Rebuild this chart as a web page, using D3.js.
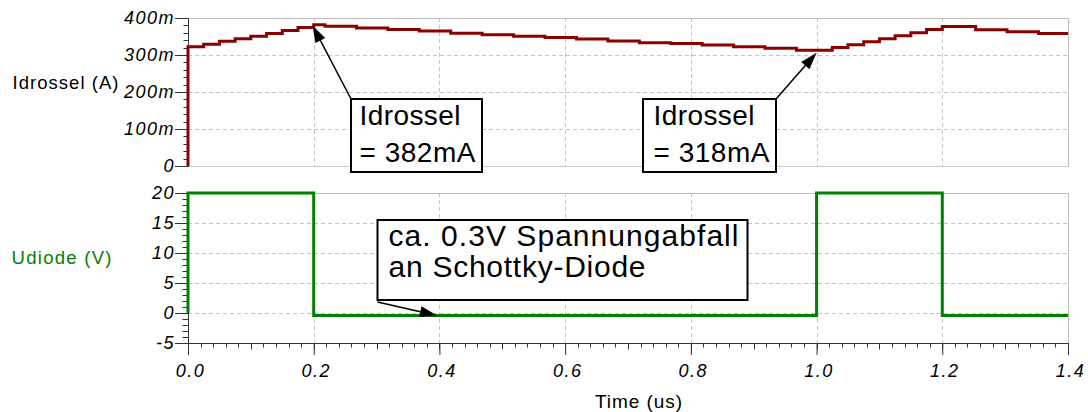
<!DOCTYPE html>
<html><head><meta charset="utf-8">
<script src="https://cdn.jsdelivr.net/npm/d3@7"></script>
<style>body{margin:0;background:#fff} svg{display:block}</style>
</head><body><svg id="c" width="1088" height="412"></svg>
<script>
// ---- data ----
const timeI = [0, 0, 0.025, 0.05, 0.075, 0.1, 0.125, 0.15, 0.175, 0.2, 0.218, 0.268, 0.318, 0.368, 0.418, 0.468, 0.518, 0.568, 0.618, 0.668, 0.718, 0.768, 0.818, 0.868, 0.918, 0.968, 1.0, 1.025, 1.05, 1.075, 1.1, 1.125, 1.15, 1.175, 1.2, 1.253, 1.303, 1.353, 1.4];
const idrossel = [0, 0.322, 0.329, 0.337, 0.344, 0.351, 0.358, 0.366, 0.374, 0.382, 0.378, 0.373, 0.369, 0.365, 0.359, 0.355, 0.351, 0.347, 0.343, 0.338, 0.333, 0.331, 0.327, 0.322, 0.318, 0.313, 0.313, 0.320, 0.328, 0.336, 0.344, 0.352, 0.360, 0.369, 0.377, 0.368, 0.363, 0.358, 0.358];
const timeU = [0, 0, 0.2, 0.2, 1.0, 1.0, 1.2, 1.2, 1.4];
const udiode = [0, 20, 20, -0.4, -0.4, 20, 20, -0.4, -0.4];
const xTicks = [0, 0.2, 0.4, 0.6, 0.8, 1.0, 1.2, 1.4];
const xTickLabels = ["0.0", "0.2", "0.4", "0.6", "0.8", "1.0", "1.2", "1.4"];
const iTicks = [0, 0.1, 0.2, 0.3, 0.4];
const iTickLabels = ["0", "100m", "200m", "300m", "400m"];
const uTicks = [-5, 0, 5, 10, 15, 20];
const uTickLabels = ["-5", "0", "5", "10", "15", "20"];
const annoText = [["Idrossel", "= 382mA"], ["Idrossel", "= 318mA"], ["ca. 0.3V Spannungabfall", "an Schottky-Diode"]];
const annoTarget = [[0.198, 0.380], [1.0, 0.306], [0.396, -0.4]];

// ---- layout ----
const svg = d3.select("#c");
const FONT = "'Liberation Sans', Arial, sans-serif";
const x = d3.scaleLinear().domain([0, 1.4]).range([188, 1068]);
const yI = d3.scaleLinear().domain([0, 0.4]).range([166, 18]);
const yU = d3.scaleLinear().domain([-5, 20]).range([343, 193]);
const GRID = "#c4c4c4";
const px = v => Math.round(v) + 0.5;

function panel(yS, yTicks, solidBottom) {
  const g = svg.append("g");
  const [y0, y1] = yS.range();
  g.selectAll("line.hg").data(yTicks.filter(v => yS(v) !== y0 && yS(v) !== y1)).join("line")
    .attr("x1", x(0)).attr("x2", x(1.4)).attr("y1", d => px(yS(d))).attr("y2", d => px(yS(d)))
    .attr("stroke", GRID).attr("stroke-dasharray", "4,3");
  g.selectAll("line.vg").data(xTicks.slice(1, -1)).join("line")
    .attr("x1", d => px(x(d))).attr("x2", d => px(x(d))).attr("y1", y1).attr("y2", y0)
    .attr("stroke", GRID).attr("stroke-dasharray", "4,3");
  g.append("line").attr("x1", x(0)).attr("x2", px(x(1.4))).attr("y1", px(y1)).attr("y2", px(y1)).attr("stroke", "#bdbdbd");
  g.append("line").attr("x1", px(x(1.4))).attr("x2", px(x(1.4))).attr("y1", px(y1)).attr("y2", px(y0)).attr("stroke", "#bdbdbd");
  if (solidBottom) g.append("line").attr("x1", x(0)).attr("x2", px(x(1.4))).attr("y1", px(y0)).attr("y2", px(y0)).attr("stroke", "#c8c8c8");
}
panel(yI, iTicks, true);
panel(yU, uTicks, false);

function styleTicks(sel, size, ls) {
  sel.attr("font-family", null).attr("font-size", null);
  sel.selectAll("text").attr("font-family", FONT).attr("font-style", "italic")
    .attr("font-size", size).attr("letter-spacing", ls).attr("fill", "#000");
  sel.selectAll("line").attr("stroke", "#333");
  sel.select(".domain").attr("stroke", "#333");
}

function minorY(yS, vals, len) {
  svg.append("g").selectAll("line").data(vals).join("line")
    .attr("x1", px(x(0)) - len).attr("x2", px(x(0))).attr("y1", d => px(yS(d))).attr("y2", d => px(yS(d)))
    .attr("stroke", "#333");
}
minorY(yI, d3.range(0, 21).map(i => i * 0.02), 5);
minorY(yU, d3.range(-5, 21), 6);

const axI = svg.append("g").attr("transform", `translate(${x(0)},0)`)
  .call(d3.axisLeft(yI).tickValues(iTicks).tickFormat((d, i) => iTickLabels[i]).tickSize(13).tickSizeOuter(0));
styleTicks(axI, 18, "1.5px");
axI.selectAll("text").attr("x", -13);

const axU = svg.append("g").attr("transform", `translate(${x(0)},0)`)
  .call(d3.axisLeft(yU).tickValues(uTicks).tickFormat((d, i) => uTickLabels[i]).tickSize(13).tickSizeOuter(0));
styleTicks(axU, 18, "1.5px");
axU.selectAll("text").attr("x", -13);

svg.append("g").selectAll("line").data(d3.range(0, 71)).join("line")
  .attr("x1", i => px(x(i * 0.02))).attr("x2", i => px(x(i * 0.02)))
  .attr("y1", px(yU(-5))).attr("y2", i => px(yU(-5)) + (i % 5 === 0 ? 6 : 4))
  .attr("stroke", "#333");
const axX = svg.append("g").attr("transform", `translate(0,${yU(-5)})`)
  .call(d3.axisBottom(x).tickValues(xTicks).tickFormat((d, i) => xTickLabels[i]).tickSize(12).tickSizeOuter(0));
styleTicks(axX, 18, "1.5px");
axX.selectAll("text").attr("y", 21).attr("dx", 2);

const lineI = d3.line().x((d, i) => x(timeI[i])).y(d => yI(d)).curve(d3.curveStepAfter);
svg.append("path").attr("d", lineI(idrossel)).attr("fill", "none").attr("stroke", "#8b0000").attr("stroke-width", 3);
const lineU = d3.line().x((d, i) => x(timeU[i])).y(d => yU(d));
svg.append("path").attr("d", lineU(udiode)).attr("fill", "none").attr("stroke", "#008000").attr("stroke-width", 3);

svg.append("text").attr("x", 12.5).attr("y", 89).attr("font-family", FONT).attr("font-size", 18.5)
  .attr("textLength", 106).attr("lengthAdjust", "spacing").attr("fill", "#000").text("Idrossel (A)");
svg.append("text").attr("x", 11.5).attr("y", 264).attr("font-family", FONT).attr("font-size", 18.5)
  .attr("textLength", 100).attr("lengthAdjust", "spacing").attr("fill", "#008000").text("Udiode (V)");
svg.append("text").attr("x", 595).attr("y", 408).attr("font-family", FONT).attr("font-size", 19)
  .attr("textLength", 87).attr("lengthAdjust", "spacing").attr("fill", "#000").text("Time (us)");

const boxes = [
  {x: 351, y: 99, w: 131, h: 73, tx: 359.5, base: [125, 161.5], fs: 28, widths: [101, 116], from: [351, 99]},
  {x: 643, y: 99, w: 133, h: 73, tx: 653.5, base: [125, 161.5], fs: 28, widths: [101, 116], from: [776, 99]},
  {x: 377.5, y: 220, w: 370, h: 80, tx: 388.5, base: [246, 276.5], fs: 30, widths: [350, 257], from: [377.5, 302]}
];
boxes.forEach((b, k) => {
  const g = svg.append("g");
  const [tt, tv] = annoTarget[k];
  const tx = x(tt), ty = k === 2 ? yU(tv) : yI(tv);
  const [fx, fy] = b.from;
  const ang = Math.atan2(ty - fy, tx - fx);
  const L = 17, W = 5.5;
  const bx = tx - L * Math.cos(ang), by = ty - L * Math.sin(ang);
  g.append("line").attr("x1", fx).attr("y1", fy).attr("x2", bx).attr("y2", by).attr("stroke", "#000").attr("stroke-width", 1.5);
  g.append("path").attr("d", `M${tx},${ty}L${bx + W * Math.sin(ang)},${by - W * Math.cos(ang)}L${bx - W * Math.sin(ang)},${by + W * Math.cos(ang)}Z`).attr("fill", "#000");
  g.append("rect").attr("x", b.x).attr("y", b.y).attr("width", b.w).attr("height", b.h)
    .attr("fill", "#fff").attr("stroke", "#000").attr("stroke-width", 2);
  annoText[k].forEach((t, j) => {
    g.append("text").attr("x", b.tx).attr("y", b.base[j]).attr("font-family", FONT).attr("font-size", b.fs)
      .attr("textLength", b.widths[j]).attr("lengthAdjust", "spacing").attr("fill", "#000").text(t);
  });
});
</script></body></html>
